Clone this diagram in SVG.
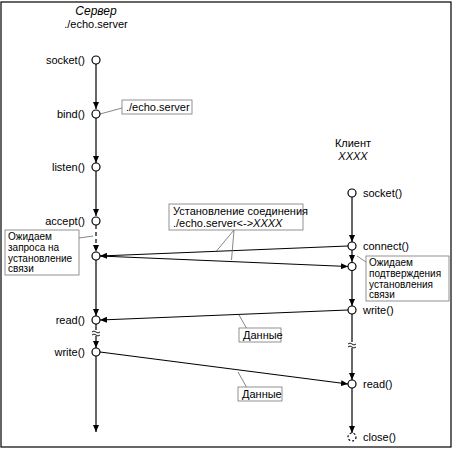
<svg xmlns="http://www.w3.org/2000/svg" width="454" height="449" viewBox="0 0 454 449">
<defs>
<marker id="ah" markerWidth="7" markerHeight="6" refX="7" refY="3" orient="auto" markerUnits="userSpaceOnUse">
<path d="M0,0 L7,3 L0,6 Z" fill="#000"/>
</marker>
<style>
text{font-family:"Liberation Sans",Arial,sans-serif;font-size:11px;fill:#000}
.t{font-size:12px;font-style:italic}
.i{font-style:italic}
.s{font-size:10px}
.ln{stroke:#000;stroke-width:1.2;fill:none}
.ld{stroke:#666;stroke-width:0.8;fill:none}
.bx{fill:#fff;stroke:#777;stroke-width:0.8}
.c{fill:#fff;stroke:#000;stroke-width:1.2}
.cd{fill:#fff;stroke:#000;stroke-width:1.2;stroke-dasharray:2 2}
.w{stroke:#000;stroke-width:0.9;fill:none}
</style>
</defs>
<rect x="1" y="2" width="450" height="445" fill="#fff" stroke="#000" stroke-width="1.2"/>

<g id="connectors">
<line class="ln" x1="96" y1="64" x2="96" y2="109" marker-end="url(#ah)"/>
<line class="ln" x1="96" y1="118" x2="96" y2="163" marker-end="url(#ah)"/>
<line class="ln" x1="96" y1="171" x2="96" y2="216" marker-end="url(#ah)"/>
<line class="ln" x1="96" y1="225" x2="96" y2="252" stroke-dasharray="4 3" marker-end="url(#ah)"/>
<line class="ln" x1="96" y1="260" x2="96" y2="316" marker-end="url(#ah)"/>
<line class="ln" x1="96" y1="324" x2="96" y2="330"/>
<line class="ln" x1="96" y1="336" x2="96" y2="348" marker-end="url(#ah)"/>
<line class="ln" x1="96" y1="356" x2="96" y2="432" marker-end="url(#ah)"/>
<line class="ln" x1="352" y1="197" x2="352" y2="242" marker-end="url(#ah)"/>
<line class="ln" x1="352" y1="250" x2="352" y2="262" marker-end="url(#ah)"/>
<line class="ln" x1="352" y1="271" x2="352" y2="306" marker-end="url(#ah)"/>
<line class="ln" x1="352" y1="314" x2="352" y2="342"/>
<line class="ln" x1="352" y1="348" x2="352" y2="380" marker-end="url(#ah)"/>
<line class="ln" x1="352" y1="388" x2="352" y2="433" marker-end="url(#ah)"/>
<path class="w" d="M92,332 q2,-2 4,0 t4,0 M92,335 q2,-2 4,0 t4,0"/>
<path class="w" d="M348,344 q2,-2 4,0 t4,0 M348,347 q2,-2 4,0 t4,0"/>
<line class="ln" x1="348" y1="246" x2="100" y2="256" marker-end="url(#ah)"/>
<line class="ln" x1="100" y1="256" x2="348" y2="266.5" marker-end="url(#ah)"/>
<line class="ln" x1="348" y1="310" x2="100" y2="320" marker-end="url(#ah)"/>
<line class="ln" x1="100" y1="352" x2="348" y2="384" marker-end="url(#ah)"/>
<line class="ld" x1="100" y1="114" x2="122" y2="108"/>
<line class="ld" x1="79" y1="238" x2="93" y2="236"/>
<line class="ld" x1="234" y1="230" x2="216.5" y2="251"/>
<line class="ld" x1="234" y1="230" x2="231.5" y2="260"/>
<line class="ld" x1="357" y1="256" x2="366" y2="262"/>
<line class="ld" x1="247" y1="329" x2="239" y2="315"/>
<line class="ld" x1="247" y1="388" x2="238" y2="372"/>
</g>

<g id="server-title">
<text class="t" x="96" y="15" text-anchor="middle">Сервер</text>
<text x="96" y="28" text-anchor="middle">./echo.server</text>
</g>
<g id="client-title">
<text x="353" y="147" text-anchor="middle">Клиент</text>
<text class="i" x="353" y="160" text-anchor="middle">XXXX</text>
</g>

<g id="s-socket"><circle class="c" cx="96" cy="60" r="4"/><text x="85" y="64" text-anchor="end">socket()</text></g>
<g id="s-bind"><circle class="c" cx="96" cy="114" r="4"/><text x="85" y="118" text-anchor="end">bind()</text></g>
<g id="s-listen"><circle class="c" cx="96" cy="167" r="4"/><text x="85" y="171" text-anchor="end">listen()</text></g>
<g id="s-accept"><circle class="c" cx="96" cy="221" r="4"/><text x="85" y="225" text-anchor="end">accept()</text></g>
<g id="s-wait"><circle class="c" cx="96" cy="256" r="4"/></g>
<g id="s-read"><circle class="c" cx="96" cy="320" r="4"/><text x="85" y="324" text-anchor="end">read()</text></g>
<g id="s-write"><circle class="c" cx="96" cy="352" r="4"/><text x="85" y="356" text-anchor="end">write()</text></g>

<g id="c-socket"><circle class="c" cx="352" cy="193" r="4"/><text x="363" y="197">socket()</text></g>
<g id="c-connect"><circle class="c" cx="352" cy="246" r="4"/><text x="363" y="250">connect()</text></g>
<g id="c-wait"><circle class="c" cx="352" cy="266.5" r="4"/></g>
<g id="c-write"><circle class="c" cx="352" cy="310" r="4"/><text x="363" y="314">write()</text></g>
<g id="c-read"><circle class="c" cx="352" cy="384" r="4"/><text x="363" y="388">read()</text></g>
<g id="c-close"><circle class="cd" cx="352" cy="437" r="4"/><text x="363" y="441">close()</text></g>

<g id="note-bind"><rect class="bx" x="122" y="100" width="70" height="14"/><text x="126" y="111">./echo.server</text></g>
<g id="note-wait-server"><rect class="bx" x="5" y="230" width="74" height="45"/>
<text class="s" x="8" y="240">Ожидаем</text><text class="s" x="8" y="251">запроса на</text><text class="s" x="8" y="262">установление</text><text class="s" x="8" y="272">связи</text></g>
<g id="note-connect"><rect class="bx" x="169" y="204" width="134" height="26"/>
<text x="173" y="215">Установление соединения</text><text x="173" y="226.5">./echo.server&lt;-&gt;<tspan class="i">XXXX</tspan></text></g>
<g id="note-wait-client"><rect class="bx" x="366" y="256" width="83" height="45"/>
<text class="s" x="369" y="266">Ожидаем</text><text class="s" x="369" y="277">подтверждения</text><text class="s" x="369" y="288">установления</text><text class="s" x="369" y="298">связи</text></g>
<g id="note-data1"><rect class="bx" x="239" y="328" width="42" height="14"/><text x="243" y="339">Данные</text></g>
<g id="note-data2"><rect class="bx" x="238" y="387" width="44" height="14"/><text x="242" y="398">Данные</text></g>
</svg>
